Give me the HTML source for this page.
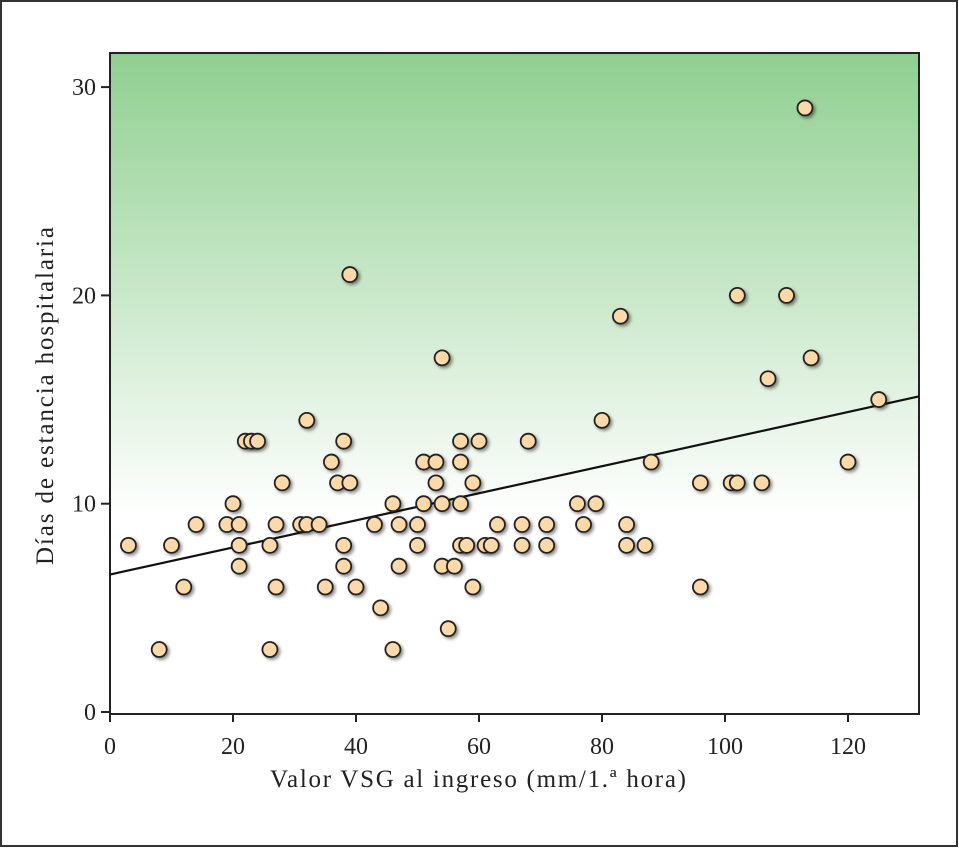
<!DOCTYPE html>
<html><head><meta charset="utf-8"><style>
body{margin:0;background:#fff}
svg{display:block;font-family:"Liberation Serif",serif}
</style></head><body>
<svg id="c" width="959" height="848">
<defs>
<linearGradient id="g" x1="0" y1="0" x2="0" y2="1">
<stop offset="0" stop-color="#8fcf90"/><stop offset="0.7" stop-color="#ffffff"/><stop offset="1" stop-color="#ffffff"/>
</linearGradient>
<filter id="sh" x="-50%" y="-50%" width="200%" height="200%"><feDropShadow dx="2" dy="2" stdDeviation="1.5" flood-color="#000" flood-opacity="0.45"/></filter>
</defs>
<rect x="1" y="1" width="956" height="845" fill="#fff" stroke="#333" stroke-width="2"/>
<rect x="110" y="53" width="809" height="661" fill="url(#g)" stroke="#222" stroke-width="2"/>
<g id="ax"></g><g id="pts"></g>
<text x="270" y="787" font-size="25" textLength="416" lengthAdjust="spacing" fill="#222">Valor VSG al ingreso (mm/1.ª hora)</text>
<text transform="translate(53,565) rotate(-90)" font-size="25" textLength="338" lengthAdjust="spacing" fill="#222">Días de estancia hospitalaria</text>
</svg>
<script>
const xTicks=[0,20,40,60,80,100,120];
const yTicks=[0,10,20,30];
const xVals=[3,8,10,12,14,19,20,21,21,21,22,23,24,26,26,27,27,28,31,32,32,34,35,36,37,38,38,38,39,39,40,43,44,46,46,47,47,50,50,51,51,53,53,54,54,54,55,56,57,57,57,57,58,59,59,60,61,62,63,67,67,68,71,71,76,77,79,80,83,84,84,87,88,96,96,101,102,102,106,107,110,113,114,120,125];
const yVals=[8,3,8,6,9,9,10,9,8,7,13,13,13,8,3,9,6,11,9,9,14,9,6,12,11,13,8,7,11,21,6,9,5,10,3,9,7,9,8,12,10,12,11,17,10,7,4,7,13,12,10,8,8,11,6,13,8,8,9,9,8,13,9,8,10,9,10,14,19,9,8,8,12,11,6,11,11,20,11,16,20,29,17,12,15];
const fitLine=[6.6,0.065];
const sx=v=>110+v*6.15, sy=v=>712-v*20.83;
const ns="http://www.w3.org/2000/svg";
const ax=document.getElementById('ax'), pts=document.getElementById('pts');
function mk(t,a,p){const e=document.createElementNS(ns,t);for(const k in a)e.setAttribute(k,a[k]);p.appendChild(e);return e;}
xTicks.forEach(v=>{
 const l=mk('line',{x1:sx(v),x2:sx(v),y1:714,y2:722,stroke:'#222','stroke-width':2},ax);
 
 
 const t=mk('text',{x:sx(v),y:754,'font-size':24,'text-anchor':'middle',fill:'#222'},ax);t.textContent=v;
 
 
});
yTicks.forEach(v=>{
 const l=mk('line',{x1:101,x2:110,y1:sy(v),y2:sy(v),stroke:'#222','stroke-width':2},ax);
 
 
 const t=mk('text',{x:96,y:sy(v)+8,'font-size':24,'text-anchor':'end',fill:'#222'},ax);t.textContent=v;
 
 
});
const x1=0,x2=131.5;
const ln=mk('line',{x1:sx(x1),y1:sy(fitLine[0]+fitLine[1]*x1),x2:sx(x2),y2:sy(fitLine[0]+fitLine[1]*x2),stroke:'#111','stroke-width':2.2},ax);


xVals.forEach((x,i)=>{
 const c=mk('circle',{cx:sx(x),cy:sy(yVals[i]),r:7.5,fill:'#fcd9a6',stroke:'#222','stroke-width':1.8,filter:'url(#sh)'},pts);
 
 
});
</script>
</body></html>
